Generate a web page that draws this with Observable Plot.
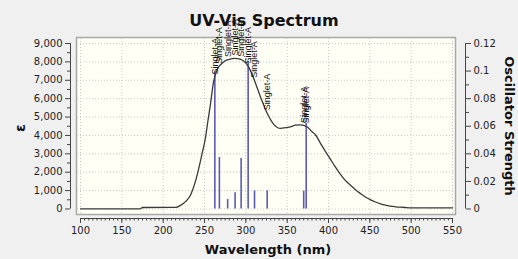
<!DOCTYPE html>
<html>
<head>
<meta charset="utf-8">
<script src="https://cdn.jsdelivr.net/npm/d3@7"></script>
<script src="https://cdn.jsdelivr.net/npm/@observablehq/plot@0.6"></script>
<style>
  html, body { margin: 0; padding: 0; background: #f0f0f0; }
  #chart { width: 518px; height: 259px; }
</style>
</head>
<body>
<div id="chart"></div>
<script>
// ---- data ----
const wavelength = [100,172,175,215,221,227,233,238,243,247,251,254,257,261,265,271,276,281,286,290,296,302,308,314,320,326,334,342,348,354,360,366,374,380,384,390,396,402,408,414,420,427,433,439,445,451,457,463,469,475,481,487,493,500,550];
const epsilon = [10,10,80,90,200,400,750,1350,2200,3000,3830,4750,5640,6920,7550,7910,8080,8150,8190,8180,8090,7820,7280,6550,5830,5190,4590,4380,4420,4470,4560,4570,4470,4200,4050,3600,3150,2730,2300,1910,1570,1280,1030,826,640,500,380,283,210,152,120,98,80,65,65];

const stickNm = [262.5, 268, 278, 287, 294.3, 302.8, 310.5, 325.8, 370, 373];
const stickF  = [0.0995, 0.0373, 0.0069, 0.0117, 0.0366, 0.107, 0.0132, 0.0132, 0.013, 0.062];
const stickLabel = ["Singlet-A","Singlet-A","Singlet-A","Singlet-A","Singlet-A","Singlet-A","Singlet-A","Singlet-A","Singlet-A","Singlet-A"];

const xMajor = [100,150,200,250,300,350,400,450,500,550];
const xMinor = d3.range(100, 551, 5);
const yMajor = [0,1000,2000,3000,4000,5000,6000,7000,8000,9000];
const yMinor = d3.range(500, 9000, 1000);
const fMajor = [0,0.02,0.04,0.06,0.08,0.1,0.12];
const fMinor = [0.01,0.03,0.05,0.07,0.09,0.11];

const titleText = "UV-Vis Spectrum";
const xLabel = "Wavelength (nm)";
const yLabel = "ε";
const y2Label = "Oscillator Strength";

// ---- derived ----
const K = 9000 / 0.12; // oscillator strength -> epsilon units on shared scale
const X_DOMAIN = [87.9, 565.7];
const Y_DOMAIN = [-517, 9326];

const spectrum = wavelength.map((w, i) => ({w, e: epsilon[i]}));
const sticks = stickNm.map((w, i) => ({w, f: stickF[i], label: stickLabel[i]}));
const bis = d3.bisector(d => d.w).left;
function curveAt(w) {
  const i = Math.max(1, Math.min(spectrum.length - 1, bis(spectrum, w)));
  const a = spectrum[i - 1], b = spectrum[i];
  const t = (w - a.w) / (b.w - a.w);
  return a.e + t * (b.e - a.e);
}
const fmtF = v => String(+v.toFixed(2));

const axisColor = "#444";

const chart = Plot.plot({
  width: 518,
  height: 259,
  marginTop: 37,
  marginBottom: 41,
  marginLeft: 70,
  marginRight: 53,
  style: {fontFamily: "DejaVu Sans", fontSize: "10px", background: "transparent", color: "#222"},
  x: {domain: X_DOMAIN, axis: null},
  y: {domain: Y_DOMAIN, axis: null},
  marks: [
    Plot.frame({fill: "#fffff6", stroke: "#a8a8a8", strokeWidth: 1.5, insetLeft: 6, insetRight: 10, insetBottom: 4}),
    Plot.gridX(xMajor, {stroke: "#c8c8c8", strokeOpacity: 1, strokeDasharray: "1,2", insetBottom: 5, insetTop: 1}),
    Plot.gridY(yMajor, {stroke: "#c8c8c8", strokeOpacity: 1, strokeDasharray: "1,2", insetLeft: 7, insetRight: 11}),
    // axis lines
    Plot.ruleX([X_DOMAIN[0]], {y1: yMajor[0], y2: yMajor[yMajor.length - 1], stroke: axisColor}),
    Plot.ruleX([X_DOMAIN[1]], {y1: fMajor[0] * K, y2: fMajor[fMajor.length - 1] * K, stroke: axisColor}),
    Plot.ruleY([Y_DOMAIN[0]], {x1: xMajor[0], x2: xMajor[xMajor.length - 1], stroke: axisColor}),
    // axes
    Plot.axisX(xMajor, {anchor: "bottom", tickSize: 5, tickPadding: 3, label: null, stroke: axisColor, fill: "#222", fontSize: 10}),
    Plot.axisX(xMinor, {anchor: "bottom", tickSize: 2.5, label: null, stroke: axisColor, fill: "none"}),
    Plot.axisY(yMajor, {anchor: "left", tickSize: 5, tickPadding: 3, tickFormat: d3.format(","), label: null, stroke: axisColor, fill: "#222", fontSize: 10}),
    Plot.axisY(yMinor, {anchor: "left", tickSize: 3, label: null, stroke: axisColor, fill: "none"}),
    Plot.axisY(fMajor.map(v => v * K), {anchor: "right", tickSize: 5, tickPadding: 3, tickFormat: d => fmtF(d / K), label: null, stroke: axisColor, fill: "#222", fontSize: 10}),
    Plot.axisY(fMinor.map(v => v * K), {anchor: "right", tickSize: 3, label: null, stroke: axisColor, fill: "none"}),
    // sticks
    Plot.ruleX(sticks, {x: "w", y1: 0, y2: d => d.f * K, stroke: "#5b5bb5", strokeWidth: 1.6}),
    // spectrum
    Plot.line(spectrum, {x: "w", y: "e", stroke: "#3a3a3a", strokeWidth: 1.3, curve: "monotone-x"}),
    // stick labels
    Plot.text(sticks, {x: "w", y: d => curveAt(d.w), text: "label", rotate: -90, textAnchor: "start", dy: -3, fontSize: 9, fontFamily: "Liberation Sans", fill: "#111"}),
    // titles
    Plot.text([titleText], {frameAnchor: "top", textAnchor: "middle", lineAnchor: "middle", dx: -4, dy: -17, text: d => d, fontSize: 16, fontWeight: "bold", fill: "#111"}),
    Plot.text([xLabel], {frameAnchor: "bottom", textAnchor: "middle", lineAnchor: "middle", dx: 0, dy: 31, text: d => d, fontSize: 13, fontWeight: "bold", fill: "#111"}),
    Plot.text([yLabel], {frameAnchor: "left", textAnchor: "middle", lineAnchor: "middle", dx: -50, dy: 0, rotate: -90, text: d => d, fontSize: 14, fontWeight: "bold", fill: "#111"}),
    Plot.text([y2Label], {frameAnchor: "right", textAnchor: "middle", lineAnchor: "middle", dx: 44, dy: -2, rotate: 90, text: d => d, fontSize: 13, fontWeight: "bold", fill: "#111"})
  ]
});
document.getElementById("chart").appendChild(chart);
</script>
</body>
</html>
